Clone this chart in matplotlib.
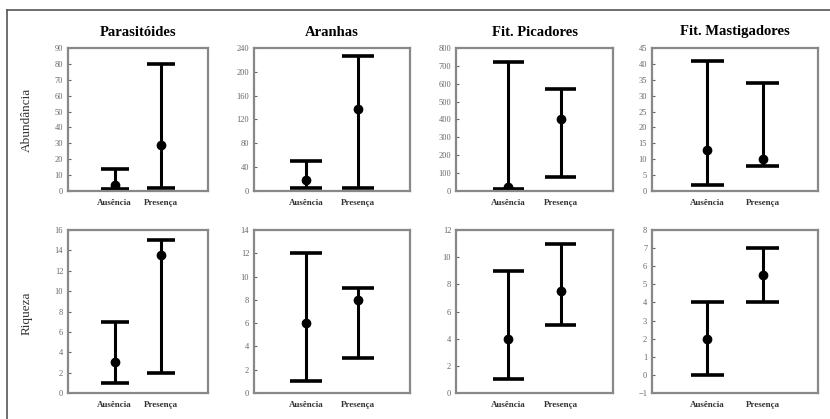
import numpy as np
import matplotlib.pyplot as plt
from matplotlib.lines import Line2D

plt.rcParams['font.family'] = ['Liberation Serif', 'DejaVu Serif']

groups = ['Parasitóides', 'Aranhas', 'Fit. Picadores', 'Fit. Mastigadores']
categories = ['Ausência', 'Presença']
row_labels = ['Abundância', 'Riqueza']

# abundance (top row): mean, min, max for Ausência / Presença
abund_mean = [[4, 29], [18, 138], [25, 400], [13, 10]]
abund_low = [[1, 2], [5, 5], [10, 80], [2, 8]]
abund_high = [[14, 80], [50, 226], [720, 570], [41, 34]]

# richness (bottom row)
riq_mean = [[3, 13.5], [6, 8], [4, 7.5], [2, 5.5]]
riq_low = [[1, 2], [1, 3], [1, 5], [0, 4]]
riq_high = [[7, 15], [12, 9], [9, 11], [4, 7]]

abund_ticks = [np.arange(0, 91, 10), np.arange(0, 241, 40),
               np.arange(0, 801, 100), np.arange(0, 46, 5)]
riq_ticks = [np.arange(0, 17, 2), np.arange(0, 15, 2),
             np.arange(0, 13, 2), np.arange(-1, 9, 1)]

fig = plt.figure(figsize=(8.3, 4.19), dpi=100)

lefts = [68, 254, 456, 652]
rights = [208, 410, 613, 818]
rows = [(48, 191), (230, 393)]
W, H = 830, 419

# frame lines of the original figure (top and left only)
fig.add_artist(Line2D([7 / W, 1], [1 - 10 / H, 1 - 10 / H], color='#555555', lw=1.2))
fig.add_artist(Line2D([7 / W, 7 / W], [0, 1 - 10 / H], color='#555555', lw=1.2))

xs = np.array([1, 2])

for r, (means, lows, highs, ticks) in enumerate([
        (abund_mean, abund_low, abund_high, abund_ticks),
        (riq_mean, riq_low, riq_high, riq_ticks)]):
    top, bot = rows[r]
    for c in range(4):
        ax = fig.add_axes([lefts[c] / W, 1 - bot / H,
                           (rights[c] - lefts[c]) / W, (bot - top) / H])
        m = np.array(means[c], dtype=float)
        lo = np.array(lows[c], dtype=float)
        hi = np.array(highs[c], dtype=float)
        ax.vlines(xs, lo, hi, color='black', lw=2.2)
        ax.hlines(lo, xs - 0.3, xs + 0.3, color='black', lw=2.6)
        ax.hlines(hi, xs - 0.3, xs + 0.3, color='black', lw=2.6)
        ax.plot(xs, m, 'o', color='black', ms=6)
        ax.set_xlim(0, 3)
        ax.set_ylim(ticks[c][0], ticks[c][-1])
        ax.set_yticks(ticks[c])
        ax.set_xticks(xs)
        ax.set_xticklabels(categories, fontsize=6.5, fontweight='bold', color='#333333')
        ax.tick_params(axis='y', labelsize=6, colors='#666666', direction='in', length=2)
        ax.tick_params(axis='x', length=0, pad=6)
        for s in ax.spines.values():
            s.set_color('#888888')
            s.set_linewidth(1.6)
        if r == 0:
            ax.set_title(groups[c], fontsize=10.5, fontweight='bold', pad=9)

fig.text(27 / W, 1 - 120 / H, row_labels[0], rotation=90, ha='center', va='center',
         fontsize=9.5, color='#333333')
fig.text(27 / W, 1 - 313 / H, row_labels[1], rotation=90, ha='center', va='center',
         fontsize=9.5, color='#333333')

fig.savefig('out.png', dpi=100)
